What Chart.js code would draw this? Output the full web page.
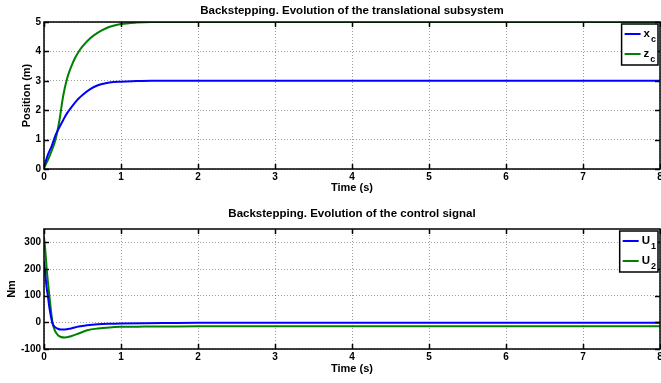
<!DOCTYPE html>
<html>
<head>
<meta charset="utf-8">
<script src="https://cdn.jsdelivr.net/npm/chart.js@4/dist/chart.umd.min.js"></script>
<style>
  html, body { margin: 0; padding: 0; background: #fff; }
  #wrap { position: relative; width: 661px; height: 383px; overflow: hidden; }
  .box { position: absolute; left: 0; width: 661px; }
  #top { top: 0; height: 196px; }
  #bottom { top: 196px; height: 187px; }
</style>
</head>
<body>
<div id="wrap">
  <div class="box" id="top"><canvas id="posChart"></canvas></div>
  <div class="box" id="bottom"><canvas id="ctrlChart"></canvas></div>
</div>
<script>
// Time axis ticks (s)
const timeTicks = [0, 1, 2, 3, 4, 5, 6, 7, 8];

// Translational subsystem: position (m)
const positionTicks = [0, 1, 2, 3, 4, 5];
const tPos = [0, 0.05, 0.1, 0.15, 0.2, 0.25, 0.3, 0.35, 0.4, 0.45, 0.5, 0.6, 0.7, 0.8, 0.9, 1.0, 1.2, 1.4, 1.6, 2, 3, 4, 5, 6, 7, 8];
const xc = [0.08, 0.48, 0.78, 1.15, 1.42, 1.67, 1.9, 2.08, 2.25, 2.4, 2.52, 2.72, 2.85, 2.92, 2.96, 2.97, 2.99, 3.0, 3.0, 3.0, 3.0, 3.0, 3.0, 3.0, 3.0, 3.0];
const zc = [0.05, 0.3, 0.62, 1.0, 1.65, 2.5, 3.08, 3.46, 3.76, 3.99, 4.17, 4.45, 4.64, 4.78, 4.87, 4.93, 4.98, 5.0, 5.0, 5.0, 5.0, 5.0, 5.0, 5.0, 5.0, 5.0];

// Control signal (Nm)
const torqueTicks = [-100, 0, 100, 200, 300];
const tU = [0, 0.02, 0.035, 0.05, 0.07, 0.09, 0.11, 0.14, 0.18, 0.22, 0.27, 0.35, 0.45, 0.56, 0.7, 0.85, 1.0, 1.3, 1.6, 2, 3, 4, 5, 6, 7, 8];
const u1 = [230, 170, 128, 100, 55, 22, -4, -17, -24, -27, -27, -23, -16, -11, -7, -5, -4, -3, -2.5, -2, -2, -2, -2, -2, -2, -2];
const u2 = [320, 260, 200, 155, 100, 45, 0, -30, -48, -55, -57, -52, -42, -30, -23, -19, -17, -16, -15.5, -15, -15, -15, -15, -15, -15, -15];

const BLUE = '#0000ff';
const GREEN = '#008000';
const FONT = '"Liberation Sans", Arial, sans-serif';

Chart.defaults.font.family = FONT;
Chart.defaults.color = '#000';

function pairs(ts, vs) { return ts.map((t, i) => ({ x: t, y: vs[i] })); }

// Boxed axes with inward ticks, the plot title and a legend with subscripts
const framePlugin = {
  id: 'frame',
  afterDraw(chart, args, opts) {
    const { ctx, chartArea: a, scales } = chart;
    ctx.save();
    ctx.strokeStyle = '#000';
    ctx.lineWidth = 1.5;
    ctx.setLineDash([]);
    const len = 5;
    ctx.beginPath();
    scales.x.ticks.forEach(t => {
      const px = Math.round(scales.x.getPixelForValue(t.value)) + 0.5;
      ctx.moveTo(px, a.bottom); ctx.lineTo(px, a.bottom - len);
      ctx.moveTo(px, a.top); ctx.lineTo(px, a.top + len);
    });
    scales.y.ticks.forEach(t => {
      const py = Math.round(scales.y.getPixelForValue(t.value)) + 0.5;
      ctx.moveTo(a.left, py); ctx.lineTo(a.left + len, py);
      ctx.moveTo(a.right, py); ctx.lineTo(a.right - len, py);
    });
    ctx.stroke();
    ctx.strokeRect(a.left, a.top, a.right - a.left, a.bottom - a.top);

    // title
    ctx.fillStyle = '#000';
    ctx.font = 'bold 11.5px ' + FONT;
    ctx.textAlign = 'center';
    ctx.textBaseline = 'alphabetic';
    ctx.fillText(opts.title, (a.left + a.right) / 2, opts.titleY);

    // legend
    const mainFont = 'bold 11.5px ' + FONT;
    const subFont = 'bold 9px ' + FONT;
    let textW = 0;
    opts.entries.forEach(e => {
      ctx.font = mainFont; const w1 = ctx.measureText(e.label).width;
      ctx.font = subFont; const w2 = ctx.measureText(e.sub).width;
      textW = Math.max(textW, w1 + w2 + 1);
    });
    const boxW = 3 + 16 + 3 + textW + 2;
    const boxH = 41;
    const bx = a.right - 2 - boxW;
    const by = a.top + 2;
    ctx.fillStyle = '#fff';
    ctx.fillRect(bx, by, boxW, boxH);
    ctx.strokeStyle = '#000';
    ctx.lineWidth = 1.5;
    ctx.strokeRect(bx, by, boxW, boxH);
    opts.entries.forEach((e, i) => {
      const y = by + 10 + i * 20;
      ctx.strokeStyle = e.color;
      ctx.lineWidth = 2;
      ctx.beginPath();
      ctx.moveTo(bx + 3, y); ctx.lineTo(bx + 19, y);
      ctx.stroke();
      ctx.fillStyle = '#000';
      ctx.textAlign = 'left';
      ctx.textBaseline = 'alphabetic';
      ctx.font = mainFont;
      ctx.fillText(e.label, bx + 22, y + 3);
      const w1 = ctx.measureText(e.label).width;
      ctx.font = subFont;
      ctx.fillText(e.sub, bx + 22 + w1 + 1, y + 8);
    });
    ctx.restore();
  }
};

function makeChart(id, cfg) {
  const tickFont = { size: 10, weight: 'bold' };
  const titleFont = { size: 11, weight: 'bold' };
  return new Chart(document.getElementById(id), {
    type: 'line',
    data: {
      datasets: cfg.series.map(s => ({
        label: s.name,
        data: pairs(s.t, s.v),
        borderColor: s.color,
        borderWidth: 2,
        pointRadius: 0,
        fill: false,
        cubicInterpolationMode: 'monotone'
      }))
    },
    options: {
      responsive: true,
      maintainAspectRatio: false,
      animation: false,
      layout: { padding: { top: cfg.padTop, right: 1, left: 0, bottom: 0 } },
      plugins: {
        legend: { display: false },
        title: { display: false },
        tooltip: { enabled: false },
        frame: { title: cfg.title, titleY: cfg.titleY, entries: cfg.legend }
      },
      scales: {
        x: {
          type: 'linear',
          min: 0, max: 8,
          afterBuildTicks: sc => { sc.ticks = timeTicks.map(v => ({ value: v })); },
          afterFit: sc => { sc.height = cfg.xHeight; sc.paddingLeft = 0; sc.paddingRight = 0; },
          grid: { color: 'rgba(0,0,0,0.38)', lineWidth: 1, drawTicks: false },
          border: { display: false, dash: [1, 2] },
          ticks: { font: tickFont, padding: 2, maxRotation: 0 },
          title: { display: true, text: 'Time (s)', font: titleFont, padding: { top: 0, bottom: cfg.xTitlePad } }
        },
        y: {
          type: 'linear',
          min: cfg.yMin, max: cfg.yMax,
          afterBuildTicks: sc => { sc.ticks = cfg.yTicks.map(v => ({ value: v })); },
          afterFit: sc => { sc.width = 44; sc.paddingTop = 0; sc.paddingBottom = 0; },
          grid: { color: 'rgba(0,0,0,0.38)', lineWidth: 1, drawTicks: false },
          border: { display: false, dash: [1, 2] },
          ticks: { font: tickFont, padding: 3 },
          title: { display: true, text: cfg.yTitle, font: titleFont, padding: { top: cfg.yTitlePad, bottom: 0 } }
        }
      }
    },
    plugins: [framePlugin]
  });
}

makeChart('posChart', {
  title: 'Backstepping. Evolution of the translational subsystem',
  titleY: 14,
  padTop: 22,
  xHeight: 27,
  xTitlePad: 1,
  yMin: 0, yMax: 5,
  yTicks: positionTicks,
  yTitle: 'Position (m)',
  yTitlePad: 20,
  series: [
    { name: 'xc', t: tPos, v: xc, color: BLUE },
    { name: 'zc', t: tPos, v: zc, color: GREEN }
  ],
  legend: [
    { label: 'x', sub: 'c', color: BLUE },
    { label: 'z', sub: 'c', color: GREEN }
  ]
});

makeChart('ctrlChart', {
  title: 'Backstepping. Evolution of the control signal',
  titleY: 21,
  padTop: 33,
  xHeight: 34,
  xTitlePad: 7,
  yMin: -100, yMax: 350,
  yTicks: torqueTicks,
  yTitle: 'Nm',
  yTitlePad: 5,
  series: [
    { name: 'U1', t: tU, v: u1, color: BLUE },
    { name: 'U2', t: tU, v: u2, color: GREEN }
  ],
  legend: [
    { label: 'U', sub: '1', color: BLUE },
    { label: 'U', sub: '2', color: GREEN }
  ]
});
</script>
</body>
</html>
